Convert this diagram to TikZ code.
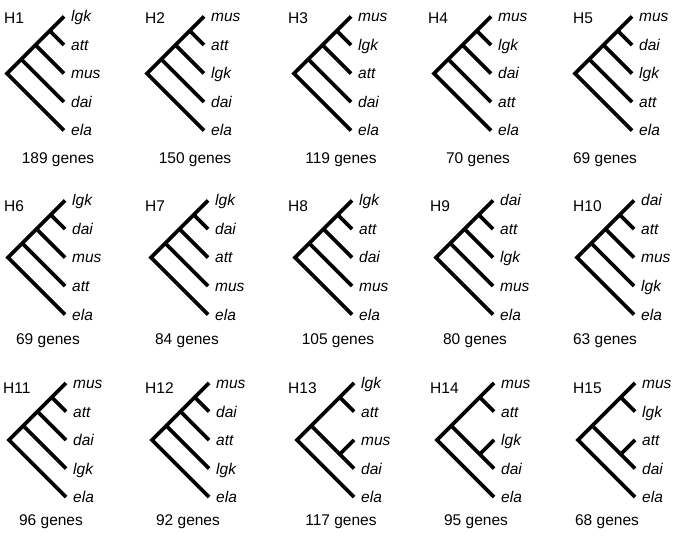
\documentclass[tikz,border=0pt]{standalone}
\usepackage{fontspec}
\setmainfont{Liberation Sans}
\newcommand\figfs{\fontsize{15.5}{18}\selectfont}
\tikzset{
  branch/.style={line width=3.6pt, line cap=butt, line join=miter, black},
  leaf/.style={anchor=base west, inner sep=0pt, font=\figfs\itshape},
  hlab/.style={anchor=base west, inner sep=0pt, font=\figfs},
  genes/.style={anchor=base, inner sep=0pt, font=\figfs},
}
% ladder tree ((((a,b),c),d),ela)
\newcommand\ladtree[7]{%
  \coordinate (#1L0) at (#2+57, #3);
  \coordinate (#1L1) at (#2+57, #3+28.5);
  \coordinate (#1L2) at (#2+57, #3+57);
  \coordinate (#1L3) at (#2+57, #3+85.5);
  \coordinate (#1L4) at (#2+57, #3+114);
  \coordinate (#1n1) at (#2+42.75, #3+14.25);
  \coordinate (#1n2) at (#2+28.5, #3+28.5);
  \coordinate (#1n3) at (#2+14.25, #3+42.75);
  \coordinate (#1r) at (#2, #3+57);
  \draw[branch] (#1L0) -- (#1n1) -- (#1n2) -- (#1n3) -- (#1r) -- (#1L4);
  \draw[branch] (#1n1) -- (#1L1);
  \draw[branch] (#1n2) -- (#1L2);
  \draw[branch] (#1n3) -- (#1L3);
  \node[leaf] (#1t0) at ([xshift=7pt,yshift=-5.5pt]#1L0) {#4};
  \node[leaf] (#1t1) at ([xshift=7pt,yshift=-5.5pt]#1L1) {#5};
  \node[leaf] (#1t2) at ([xshift=7pt,yshift=-5.5pt]#1L2) {#6};
  \node[leaf] (#1t3) at ([xshift=7pt,yshift=-5.5pt]#1L3) {#7};
  \node[leaf] (#1t4) at ([xshift=7pt,yshift=-5.5pt]#1L4) {ela};
}
% balanced tree (((a,b),(c,d)),ela)
\newcommand\baltree[7]{%
  \coordinate (#1L0) at (#2+57, #3);
  \coordinate (#1L1) at (#2+57, #3+28.5);
  \coordinate (#1L2) at (#2+57, #3+57);
  \coordinate (#1L3) at (#2+57, #3+85.5);
  \coordinate (#1L4) at (#2+57, #3+114);
  \coordinate (#1a) at (#2+42.75, #3+14.25);
  \coordinate (#1b) at (#2+42.75, #3+71.25);
  \coordinate (#1c) at (#2+14.25, #3+42.75);
  \coordinate (#1r) at (#2, #3+57);
  \draw[branch] (#1L0) -- (#1a) -- (#1c) -- (#1r) -- (#1L4);
  \draw[branch] (#1a) -- (#1L1);
  \draw[branch] (#1c) -- (#1b) -- (#1L3);
  \draw[branch] (#1b) -- (#1L2);
  \node[leaf] (#1t0) at ([xshift=7pt,yshift=-5.5pt]#1L0) {#4};
  \node[leaf] (#1t1) at ([xshift=7pt,yshift=-5.5pt]#1L1) {#5};
  \node[leaf] (#1t2) at ([xshift=7pt,yshift=-5.5pt]#1L2) {#6};
  \node[leaf] (#1t3) at ([xshift=7pt,yshift=-5.5pt]#1L3) {#7};
  \node[leaf] (#1t4) at ([xshift=7pt,yshift=-5.5pt]#1L4) {ela};
}
\begin{document}
\begin{tikzpicture}[x=1pt, y=-1pt]
\useasboundingbox[fill=white] (0,0) rectangle (685,545);
% Row 1
\ladtree{A}{7}{16.5}{lgk}{att}{mus}{dai}
\ladtree{B}{147}{16.5}{mus}{att}{lgk}{dai}
\ladtree{C}{294}{16.5}{mus}{lgk}{att}{dai}
\ladtree{D}{434}{16.5}{mus}{lgk}{dai}{att}
\ladtree{E}{575}{16.5}{mus}{dai}{lgk}{att}
\node[hlab] (hA) at (4,24) {H1};
\node[hlab] (hB) at (145,24) {H2};
\node[hlab] (hC) at (288,24) {H3};
\node[hlab] (hD) at (428,24) {H4};
\node[hlab] (hE) at (573,24) {H5};
\node[genes] (gA) at (58,164) {189 genes};
\node[genes] (gB) at (195,164) {150 genes};
\node[genes] (gC) at (341,164) {119 genes};
\node[genes] (gD) at (478,164) {70 genes};
\node[genes] (gE) at (605,164) {69 genes};
% Row 2
\ladtree{F}{8}{200.5}{lgk}{dai}{mus}{att}
\ladtree{G}{151}{200.5}{lgk}{dai}{att}{mus}
\ladtree{H}{295}{200.5}{lgk}{att}{dai}{mus}
\ladtree{I}{436}{200.5}{dai}{att}{lgk}{mus}
\ladtree{J}{577}{200.5}{dai}{att}{mus}{lgk}
\node[hlab] (hF) at (4,212) {H6};
\node[hlab] (hG) at (145,212) {H7};
\node[hlab] (hH) at (288,212) {H8};
\node[hlab] (hI) at (430,212) {H9};
\node[hlab] (hJ) at (573,212) {H10};
\node[genes] (gF) at (48,344) {69 genes};
\node[genes] (gG) at (187,344) {84 genes};
\node[genes] (gH) at (338,344) {105 genes};
\node[genes] (gI) at (475,344) {80 genes};
\node[genes] (gJ) at (605,344) {63 genes};
% Row 3
\ladtree{K}{9}{383}{mus}{att}{dai}{lgk}
\ladtree{L}{152}{383}{mus}{dai}{att}{lgk}
\baltree{M}{297}{383}{lgk}{att}{mus}{dai}
\baltree{N}{437}{383}{mus}{att}{lgk}{dai}
\baltree{O}{578}{383}{mus}{lgk}{att}{dai}
\node[hlab] (hK) at (3,393) {H11};
\node[hlab] (hL) at (145,393) {H12};
\node[hlab] (hM) at (288,393) {H13};
\node[hlab] (hN) at (430,393) {H14};
\node[hlab] (hO) at (573,393) {H15};
\node[genes] (gK) at (51,525) {96 genes};
\node[genes] (gL) at (188,525) {92 genes};
\node[genes] (gM) at (341,525) {117 genes};
\node[genes] (gN) at (476,525) {95 genes};
\node[genes] (gO) at (607,525) {68 genes};
\end{tikzpicture}
\end{document}
